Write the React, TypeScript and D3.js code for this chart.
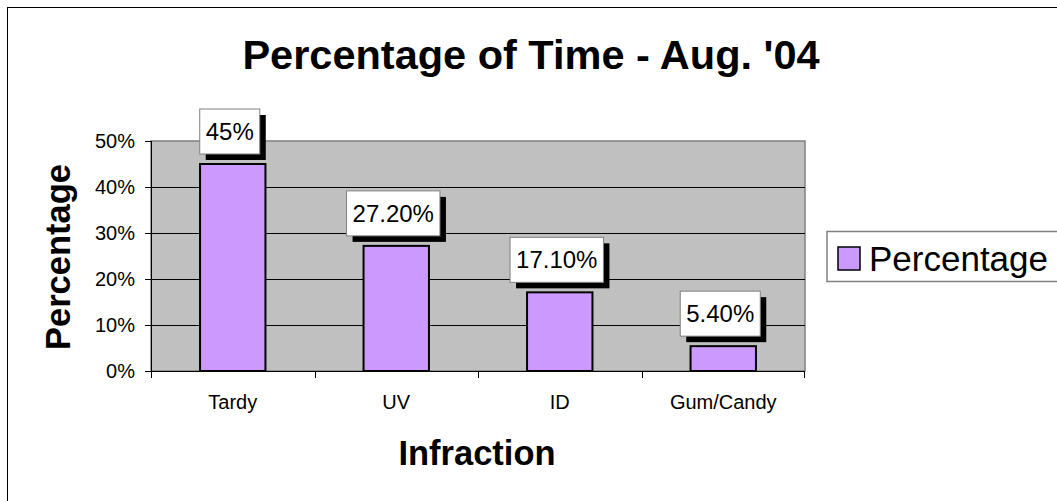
import * as d3 from 'd3'

// chart data
const categories = ['Tardy', 'UV', 'ID', 'Gum/Candy']
const values = [0.45, 0.272, 0.171, 0.054]
const valueLabels = ['45%', '27.20%', '17.10%', '5.40%']
const yTicks = [0, 0.1, 0.2, 0.3, 0.4, 0.5]
const seriesName = 'Percentage'

const W = 1057
const H = 501
const plot = { left: 151, top: 141, right: 805, bottom: 371 }
const font = 'Arial, "Liberation Sans", sans-serif'

export default function App() {
  const x = d3.scaleBand().domain(categories).range([plot.left, plot.right]).paddingInner(0).paddingOuter(0)
  const y = d3.scaleLinear().domain([0, 0.5]).range([plot.bottom, plot.top])
  const barW = x.bandwidth() * 0.4
  const fmt = d3.format('.0%')

  // label box sizes
  const labelFont = 24
  const charW = (s: string) =>
    s.split('').reduce((a, c) => a + (c === '%' ? 0.889 : c === '.' ? 0.278 : 0.556), 0) * labelFont
  const shadow = 6
  const boxH = 45

  return (
    <div style={{ position: 'fixed', left: 0, top: 0, width: W, height: H, background: '#fff' }}>
      <svg width={W} height={H} style={{ display: 'block', fontFamily: font }}>
        <rect x={0} y={0} width={W} height={H} fill="#fff" />
        {/* chart frame */}
        <rect x={7.5} y={7.5} width={1200} height={700} fill="#fff" stroke="#000" strokeWidth={1} />

        {/* title */}
        <text x={531} y={69} textAnchor="middle" fontSize={41.5} fontWeight="bold" fill="#000">
          Percentage of Time - Aug. '04
        </text>

        {/* plot area */}
        <rect x={plot.left} y={plot.top} width={plot.right - plot.left} height={plot.bottom - plot.top}
          fill="#c0c0c0" stroke="#808080" strokeWidth={1.5} />

        {/* gridlines */}
        {yTicks.filter(t => t > 0 && t < 0.5).map(t => (
          <line key={t} x1={plot.left} x2={plot.right} y1={Math.round(y(t)) + 0.5} y2={Math.round(y(t)) + 0.5}
            stroke="#000" strokeWidth={1} />
        ))}

        {/* y axis */}
        <line x1={plot.left + 0.5} x2={plot.left + 0.5} y1={plot.top} y2={plot.bottom + 6} stroke="#000" />
        {yTicks.map(t => (
          <g key={t}>
            <line x1={plot.left - 6} x2={plot.left} y1={Math.round(y(t)) + 0.5} y2={Math.round(y(t)) + 0.5} stroke="#000" />
            <text x={135} y={y(t)} dy="0.36em" textAnchor="end" fontSize={20} fill="#000">{fmt(t)}</text>
          </g>
        ))}

        {/* x axis */}
        <line x1={plot.left} x2={plot.right} y1={plot.bottom + 0.5} y2={plot.bottom + 0.5} stroke="#000" />
        {categories.map(c => (
          <line key={c} x1={Math.round(x(c)!) + 0.5} x2={Math.round(x(c)!) + 0.5} y1={plot.bottom} y2={plot.bottom + 7} stroke="#000" />
        ))}
        <line x1={plot.right - 0.5} x2={plot.right - 0.5} y1={plot.bottom} y2={plot.bottom + 7} stroke="#000" />
        {categories.map(c => (
          <text key={c} x={x(c)! + x.bandwidth() / 2} y={409} textAnchor="middle" fontSize={20} fill="#000">{c}</text>
        ))}

        {/* bars */}
        {categories.map((c, i) => {
          const cx = x(c)! + x.bandwidth() / 2
          return (
            <rect key={c} x={cx - barW / 2} y={y(values[i])} width={barW} height={plot.bottom - y(values[i])}
              fill="#cc99ff" stroke="#000" strokeWidth={2} />
          )
        })}

        {/* value labels */}
        {categories.map((c, i) => {
          const cx = x(c)! + x.bandwidth() / 2
          const bw = charW(valueLabels[i]) + 12
          const left = cx - (bw + shadow) / 2
          const top = y(values[i]) - 10 - boxH
          return (
            <g key={c}>
              <rect x={left + shadow} y={top + shadow} width={bw} height={boxH} fill="#000" />
              <rect x={left} y={top} width={bw} height={boxH} fill="#fff" stroke="#808080" strokeWidth={1} />
              <text x={left + bw / 2} y={top + boxH / 2} dy="0.36em" textAnchor="middle" fontSize={labelFont} fill="#000">
                {valueLabels[i]}
              </text>
            </g>
          )
        })}

        {/* axis titles */}
        <text transform="translate(70,257) rotate(-90)" textAnchor="middle" fontSize={34.5} fontWeight="bold"
          fill="#000">Percentage</text>
        <text x={477} y={465} textAnchor="middle" fontSize={34.5} fontWeight="bold" fill="#000">Infraction</text>

        {/* legend */}
        <rect x={827} y={231.5} width={260} height={50} fill="#fff" stroke="#808080" strokeWidth={1.5} />
        <rect x={838} y={247} width={22} height={23} fill="#cc99ff" stroke="#000" strokeWidth={1.5} />
        <text x={869} y={271} fontSize={35} fill="#000">{seriesName}</text>
      </svg>
    </div>
  )
}
